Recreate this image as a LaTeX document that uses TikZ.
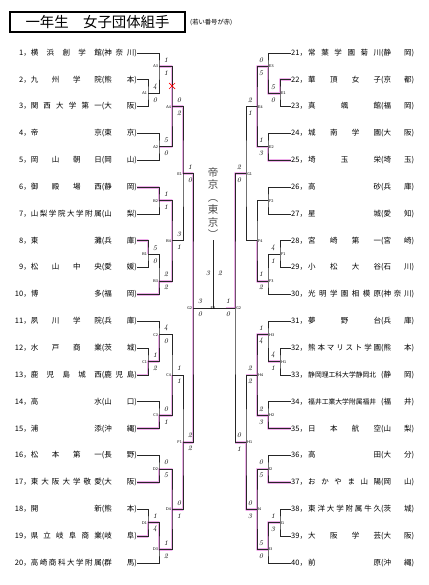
\documentclass[tikz,border=0pt]{standalone}
\usepackage{fontspec}
\newfontfamily\jp{Noto Sans CJK JP}
\usetikzlibrary{calc}
\definecolor{hl}{HTML}{E060D8}
\newcommand{\teamfont}{\jp\fontsize{7.5}{8}\selectfont}
\newcommand{\LT}[5]{\node[lteam] (#1) at (137,#2) {\makebox[16pt][r]{#3，}\makebox[71pt][s]{#4}\makebox[35pt][s]{(#5)}};}
\newcommand{\RT}[5]{\node[rteam] (#1) at (291,#2) {\makebox[17pt][l]{#3，}\makebox[73pt][s]{#4}\makebox[33pt][s]{(#5)}};}
\newcommand{\mt}[3]{\draw[ln] (#1) -| (#2) |- (#3);}
\newcommand{\lbL}[2]{\node[lb,anchor=east] (l#1) at ($(#1)+(-0.8,0)$) {#2};}
\newcommand{\lbR}[2]{\node[lb,anchor=west] (l#1) at ($(#1)+(0.8,0)$) {#2};}
\newcommand{\scL}[3]{\node[sc] (a#1) at ($(#1)+(7,-6.5)$) {#2};\node[sc] (b#1) at ($(#1)+(7,6.5)$) {#3};}
\newcommand{\scR}[3]{\node[sc] (a#1) at ($(#1)+(-7,-6.5)$) {#2};\node[sc] (b#1) at ($(#1)+(-7,6.5)$) {#3};}
\begin{document}
\begin{tikzpicture}[x=1pt,y=-1pt,
  ln/.style={line width=0.9pt, draw=black!85},
  hlp/.style={line width=2.8pt, draw=hl, opacity=0.5, line join=round},
  lteam/.style={anchor=east, inner sep=0pt, font=\teamfont, text height=6pt, text depth=1.5pt},
  rteam/.style={anchor=west, inner sep=0pt, font=\teamfont, text height=6pt, text depth=1.5pt},
  lb/.style={inner sep=0pt, font=\sffamily\fontsize{4}{4}\selectfont},
  sc/.style={inner sep=0pt, font=\itshape\fontsize{7}{7}\selectfont},
]
\useasboundingbox (0,0) rectangle (428,585);
\fill[white] (0,0) rectangle (428,585);
% title
\node[draw, line width=1.1pt, minimum width=175pt, minimum height=20pt, inner sep=0pt, font=\jp\fontsize{14.4}{15}\selectfont] (title) at (97.5,22) {一年生　女子団体組手};
\node[anchor=west, inner sep=0pt, font=\jp\fontsize{6.3}{6.5}\selectfont] (note) at (190,22) {(若い番号が赤)};
% teams left
\LT{n1}{53.00}{1}{横 浜 創 学 館}{神 奈 川}
\LT{n2}{79.84}{2}{九 州 学 院}{熊 本}
\LT{n3}{106.68}{3}{関 西 大 学 第 一}{大 阪}
\LT{n4}{133.52}{4}{帝 京}{東 京}
\LT{n5}{160.36}{5}{岡 山 朝 日}{岡 山}
\LT{n6}{187.20}{6}{御 殿 場 西}{静 岡}
\LT{n7}{214.04}{7}{山 梨 学 院 大 学 附 属}{山 梨}
\LT{n8}{240.88}{8}{東 灘}{兵 庫}
\LT{n9}{267.72}{9}{松 山 中 央}{愛 媛}
\LT{n10}{294.56}{10}{博 多}{福 岡}
\LT{n11}{321.40}{11}{夙 川 学 院}{兵 庫}
\LT{n12}{348.24}{12}{水 戸 商 業}{茨 城}
\LT{n13}{375.08}{13}{鹿 児 島 城 西}{鹿 児 島}
\LT{n14}{401.92}{14}{高 水}{山 口}
\LT{n15}{428.76}{15}{浦 添}{沖 縄}
\LT{n16}{455.60}{16}{松 本 第 一}{長 野}
\LT{n17}{482.44}{17}{東 大 阪 大 学 敬 愛}{大 阪}
\LT{n18}{509.28}{18}{開 新}{熊 本}
\LT{n19}{536.12}{19}{県 立 岐 阜 商 業}{岐 阜}
\LT{n20}{562.96}{20}{高 崎 商 科 大 学 附 属}{群 馬}
% teams right
\RT{n21}{53.00}{21}{常 葉 学 園 菊 川}{静 岡}
\RT{n22}{79.84}{22}{華 頂 女 子}{京 都}
\RT{n23}{106.68}{23}{真 颯 館}{福 岡}
\RT{n24}{133.52}{24}{城 南 学 園}{大 阪}
\RT{n25}{160.36}{25}{埼 玉 栄}{埼 玉}
\RT{n26}{187.20}{26}{高 砂}{兵 庫}
\RT{n27}{214.04}{27}{星 城}{愛 知}
\RT{n28}{240.88}{28}{宮 崎 第 一}{宮 崎}
\RT{n29}{267.72}{29}{小 松 大 谷}{石 川}
\RT{n30}{294.56}{30}{光 明 学 園 相 模 原}{神 奈 川}
\RT{n31}{321.40}{31}{夢 野 台}{兵 庫}
\RT{n32}{348.24}{32}{熊 本 マ リ ス ト 学 園}{熊 本}
\RT{n33}{375.08}{33}{\fontsize{6.8}{7}\selectfont 静岡理工科大学静岡北}{静 岡}
\RT{n34}{401.92}{34}{\fontsize{6.8}{7}\selectfont 福井工業大学附属福井}{福 井}
\RT{n35}{428.76}{35}{日 本 航 空}{山 梨}
\RT{n36}{455.60}{36}{高 田}{大 分}
\RT{n37}{482.44}{37}{お か や ま 山 陽}{岡 山}
\RT{n38}{509.28}{38}{東 洋 大 学 附 属 牛 久}{茨 城}
\RT{n39}{536.12}{39}{大 阪 学 芸}{大 阪}
\RT{n40}{562.96}{40}{前 原}{沖 縄}
% match points
\coordinate (mA1) at (148,93.26);  \coordinate (mA3) at (159,66.42);
\coordinate (mA2) at (159,146.94); \coordinate (mA4) at (172,106.68);
\coordinate (mB2) at (159,200.62); \coordinate (mB1) at (148,254.30);
\coordinate (mB3) at (159,281.14); \coordinate (mB4) at (172,240.88);
\coordinate (mE1L) at (183,173.78);
\coordinate (mC1) at (148,361.66); \coordinate (mC2) at (159,334.82);
\coordinate (mC3) at (159,415.34); \coordinate (mC4) at (172,375.08);
\coordinate (mD2) at (159,469.02); \coordinate (mD1) at (148,522.70);
\coordinate (mD3) at (159,549.54); \coordinate (mD4) at (172,509.28);
\coordinate (mF1L) at (183,442.18);
\coordinate (mG2L) at (193,307.98); \coordinate (mFin) at (213,307.98);
\coordinate (mG2R) at (235,307.98); \coordinate (champ) at (213,240);
\coordinate (mE1r) at (280,93.26);  \coordinate (mE3) at (268,66.42);
\coordinate (mE2) at (268,146.94); \coordinate (mE4) at (257,106.68);
\coordinate (mF2) at (268,200.62); \coordinate (mF1r) at (280,254.30);
\coordinate (mF3) at (268,281.14); \coordinate (mF4) at (257,240.88);
\coordinate (mG1) at (246,173.78);
\coordinate (mH1r) at (280,361.66); \coordinate (mH3) at (268,334.82);
\coordinate (mH2) at (268,415.34); \coordinate (mH4) at (257,375.08);
\coordinate (mI2) at (268,469.02); \coordinate (mI1r) at (280,522.70);
\coordinate (mI3) at (268,549.54); \coordinate (mI4) at (257,509.28);
\coordinate (mI5) at (246,442.18);
% highlight paths
\draw[hlp] (mA3) -| (mA4) |- (mA2);
\draw[hlp] (mA4) -| (mE1L);
\draw[hlp] (mE1L) -| (mG2L);
\draw[hlp] (n6.east) -| (mB2) -| (mB4);
\draw[hlp] (n8.east) -| (mB1);
\draw[hlp] (n10.east) -| (mB3) -| (mB4);
\draw[hlp] (n13.east) -| (mC1) -| (mC2);
\draw[hlp] (n15.east) -| (mC3) -| (mC4);
\draw[hlp] (n17.east) -| (mD2) -| (mD4);
\draw[hlp] (n19.east) -| (mD1) -| (mD3) -| (mD4);
\draw[hlp] (mD4) -| (mF1L) -| (mG2L);
\draw[hlp] (mG2R) -- ($(mG2R)+(-9,0)$);
\draw[hlp] (n22.west) -| (mE1r) -| (mE3) -| (mE4);
\draw[hlp] (n25.west) -| (mE2) -| (mE4);
\draw[hlp] (mG1) -| (mG2R);
\draw[hlp] (mF3) -| (mF4);
\draw[hlp] (mH3) -| (mH4) |- (mH2);
\draw[hlp] (n35.west) -| (mH2);
\draw[hlp] (mH4) -- ($(mH4)+(-11,0)$);
\draw[hlp] (mH1r) -- ($(mH1r)+(-12,0)$);
\draw[hlp] (mI2) -| (mI4) |- (mI3);
\draw[hlp] (n37.west) -| (mI2);
\draw[hlp] (mI1r) -| (mI3);
\draw[hlp] (mI4) -| (mI5) -- ($(mI5)+(-11,0)$);
% bracket lines left
\mt{n2.east}{mA1}{n3.east}
\mt{n1.east}{mA3}{mA1}
\mt{n4.east}{mA2}{n5.east}
\mt{mA3}{mA4}{mA2}
\mt{n6.east}{mB2}{n7.east}
\mt{n8.east}{mB1}{n9.east}
\mt{mB1}{mB3}{n10.east}
\mt{mB2}{mB4}{mB3}
\mt{mA4}{mE1L}{mB4}
\mt{n12.east}{mC1}{n13.east}
\mt{n11.east}{mC2}{mC1}
\mt{n14.east}{mC3}{n15.east}
\mt{mC2}{mC4}{mC3}
\mt{n16.east}{mD2}{n17.east}
\mt{n18.east}{mD1}{n19.east}
\mt{mD1}{mD3}{n20.east}
\mt{mD2}{mD4}{mD3}
\mt{mC4}{mF1L}{mD4}
\mt{mE1L}{mG2L}{mF1L}
% bracket lines right
\mt{n22.west}{mE1r}{n23.west}
\mt{n21.west}{mE3}{mE1r}
\mt{n24.west}{mE2}{n25.west}
\mt{mE3}{mE4}{mE2}
\mt{n26.west}{mF2}{n27.west}
\mt{n28.west}{mF1r}{n29.west}
\mt{mF1r}{mF3}{n30.west}
\mt{mF2}{mF4}{mF3}
\mt{mE4}{mG1}{mF4}
\mt{n32.west}{mH1r}{n33.west}
\mt{n31.west}{mH3}{mH1r}
\mt{n34.west}{mH2}{n35.west}
\mt{mH3}{mH4}{mH2}
\mt{n36.west}{mI2}{n37.west}
\mt{n38.west}{mI1r}{n39.west}
\mt{mI1r}{mI3}{n40.west}
\mt{mI2}{mI4}{mI3}
\mt{mH4}{mI5}{mI4}
\mt{mG1}{mG2R}{mI5}
% final
\draw[ln] (mG2L) -- (mFin) -- (mG2R);
\draw[ln] (mFin) -- (champ);
% red cross
\coordinate (xmark) at (172,86);
\draw[red, line width=0.7pt] ($(xmark)+(-3,-3)$) -- ($(xmark)+(3,3)$) ($(xmark)+(3,-3)$) -- ($(xmark)+(-3,3)$);
% match labels
\lbL{mA1}{A1}\lbL{mA3}{A3}\lbL{mA2}{A2}\lbL{mA4}{A4}
\lbL{mB2}{B2}\lbL{mB1}{B1}\lbL{mB3}{B3}\lbL{mB4}{B4}
\lbL{mE1L}{E1}
\lbL{mC1}{C1}\lbL{mC2}{C2}\lbL{mC3}{C3}\lbL{mC4}{C4}
\lbL{mD2}{D2}\lbL{mD1}{D1}\lbL{mD3}{D3}\lbL{mD4}{D4}
\lbL{mF1L}{F1}\lbL{mG2L}{G2}
\node[lb] (lmFin) at ($(mFin)+(0,0.5)$) {F2};
\lbR{mE1r}{E1}\lbR{mE3}{E3}\lbR{mE2}{E2}\lbR{mE4}{E4}
\lbR{mF2}{F2}\lbR{mF1r}{F1}\lbR{mF3}{F3}\lbR{mF4}{F4}
\lbR{mG1}{G1}\lbR{mG2R}{G2}
\lbR{mH1r}{H1}\lbR{mH3}{H3}\lbR{mH2}{H2}\lbR{mH4}{H4}
\lbR{mI2}{I2}\lbR{mI1r}{I1}\lbR{mI3}{I3}\lbR{mI4}{I4}
\lbR{mI5}{H1}
% scores left
\scL{mA1}{4}{0}\scL{mA3}{1}{1}\scL{mA2}{5}{0}\scL{mA4}{0}{2}
\scL{mB2}{1}{1}\scL{mB1}{5}{0}\scL{mB3}{2}{2}\scL{mB4}{3}{1}
\scL{mE1L}{1}{0}
\scL{mC1}{1}{2}\scL{mC2}{4}{0}\scL{mC3}{0}{1}\scL{mC4}{1}{1}
\scL{mD2}{0}{5}\scL{mD1}{1}{4}\scL{mD3}{1}{2}\scL{mD4}{0}{1}
\scL{mF1L}{2}{2}\scL{mG2L}{3}{0}
% scores right
\scR{mE1r}{5}{0}\scR{mE3}{0}{5}\scR{mE2}{1}{3}\scR{mE4}{2}{1}
\scR{mF1r}{4}{1}\scR{mF3}{1}{2}
\scR{mG1}{2}{0}\scR{mG2R}{1}{0}
\scR{mH1r}{4}{1}\scR{mH3}{1}{4}\scR{mH2}{2}{3}\scR{mH4}{2}{2}
\scR{mI2}{0}{5}\scR{mI1r}{1}{3}\scR{mI3}{5}{0}\scR{mI4}{0}{3}
\scR{mI5}{0}{1}
% final scores
\node[sc] (fs1) at (208,273) {3};
\node[sc] (fs2) at (220,273) {2};
% signature
\node[inner sep=0pt, font=\jp\fontsize{10.5}{12.5}\selectfont, text=black!70, align=center] (sig) at (213,203) {帝\\京\\︵\\東\\京\\︶};
\end{tikzpicture}
\end{document}
